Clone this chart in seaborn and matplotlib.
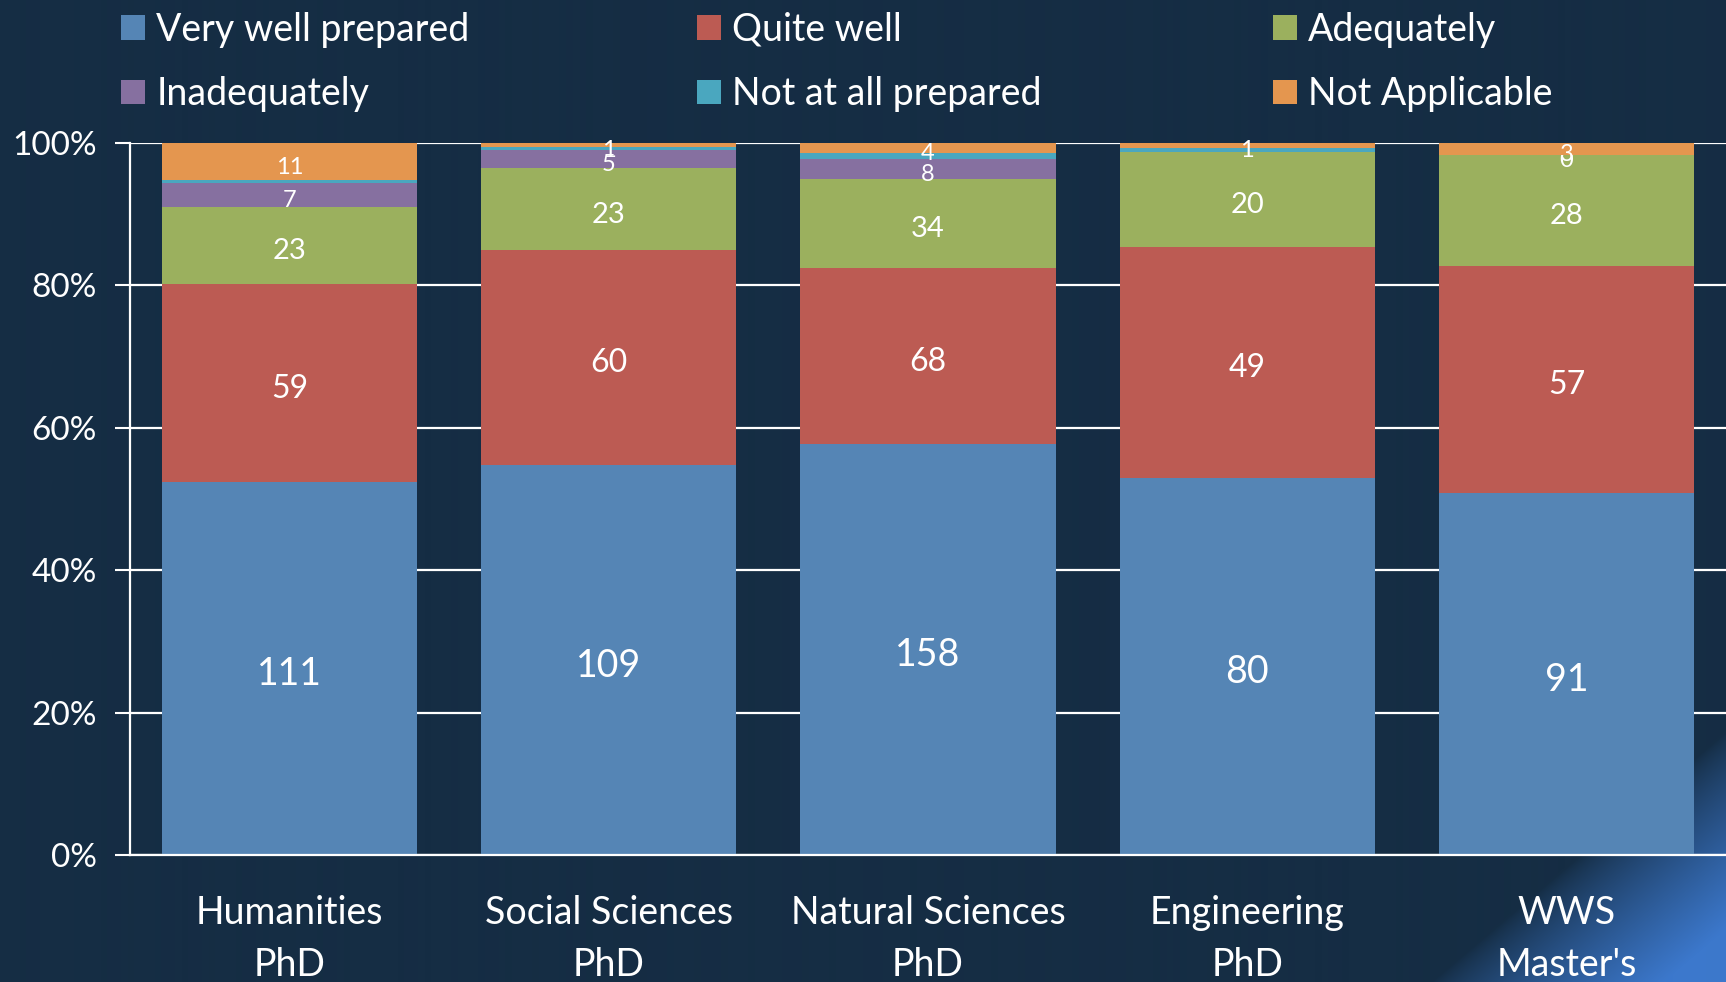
import numpy as np
import pandas as pd
import matplotlib
matplotlib.use("Agg")
import matplotlib.pyplot as plt
from matplotlib.colors import to_rgb
from matplotlib.patches import Patch
import seaborn as sns

# data (counts per group)
categories = ["Humanities\nPhD", "Social Sciences\nPhD", "Natural Sciences\nPhD",
              "Engineering\nPhD", "WWS\nMaster's"]
series_names = ["Very well prepared", "Quite well", "Adequately",
                "Inadequately", "Not at all prepared", "Not Applicable"]
very_well = [111, 109, 158, 80, 91]
quite_well = [59, 60, 68, 49, 57]
adequately = [23, 23, 34, 20, 28]
inadequately = [7, 5, 8, np.nan, 0]
not_at_all = [1, 1, 2, 1, 0]
not_applicable = [11, 1, 4, 1, 3]

colors = ["#5585b5", "#bc5b53", "#9bb05e", "#8670a0", "#4aa7bf", "#e4964f"]
label_sizes = [27, 23, 21, 17, 0, 17]   # 0 -> no labels on that series

BG = "#152d44"
W, H = 1726, 982

sns.set_theme(style="white")
plt.rcParams["font.family"] = ["Lato", "DejaVu Sans"]
plt.rcParams["text.color"] = "white"

df = pd.DataFrame(
    [very_well, quite_well, adequately, inadequately, not_at_all, not_applicable],
    index=series_names, columns=categories,
).T
totals = df.fillna(0).sum(axis=1)
pct = df.fillna(0).div(totals, axis=0) * 100

fig = plt.figure(figsize=(W / 100, H / 100), dpi=100, facecolor=BG)

# slide background: dark navy with a blue sweep in the lower right corner
bg_ax = fig.add_axes([0, 0, 1, 1], zorder=-1)
yy, xx = np.mgrid[0:H, 0:W]
f = ((xx - 1430) * 202 + (yy - 982) * 238) / 312.0
t = np.clip(f / 150.0, 0, 1)[..., None] ** 0.8
c0 = np.array(to_rgb(BG))
c1 = np.array(to_rgb("#3c78cc"))
bg_ax.imshow(c0 + t * (c1 - c0), aspect="auto", interpolation="bilinear")
bg_ax.axis("off")

ax = fig.add_axes([130 / W, 1 - 855 / H, 1 - 130 / W, (855 - 143) / H])
ax.set_facecolor("none")

bottom = np.zeros(len(categories))
for name, col, fs in zip(series_names, colors, label_sizes):
    n_before = len(ax.containers)
    sns.barplot(x=categories, y=pct[name].values, bottom=bottom, color=col,
                saturation=1, width=0.8, errorbar=None, linewidth=0,
                ax=ax, zorder=3)
    cont = ax.containers[n_before]
    if fs:
        labels = ["" if pd.isna(v) else f"{int(v)}" for v in df[name]]
        anns = ax.bar_label(cont, labels=labels, label_type="center",
                            color="white", fontsize=fs)
        for a in anns:
            a.xyann = (0, -4)
    bottom = bottom + pct[name].values

ax.set_ylim(0, 100)
ax.set_xlim(-0.5, len(categories) - 0.5)
ax.set_yticks(range(0, 101, 20))
ax.set_yticklabels([f"{v}%" for v in range(0, 101, 20)])
ax.yaxis.grid(True, color="white", linewidth=1.6, zorder=0)
ax.xaxis.grid(False)
ax.set_axisbelow(True)

ax.set_xticks(np.arange(-0.5, len(categories)), minor=True)
ax.tick_params(axis="x", which="major", length=0, pad=29, labelsize=27,
               labelcolor="white")
ax.tick_params(axis="x", which="minor", length=13, width=1.5, color="white",
               direction="out")
ax.tick_params(axis="y", length=11, width=1.5, color="white", pad=13,
               labelsize=24, labelcolor="white", left=True)
for lab in ax.get_xticklabels():
    lab.set_linespacing(1.55)

for s in ["top", "right"]:
    ax.spines[s].set_visible(False)
for s in ["left", "bottom"]:
    ax.spines[s].set_color("white")
    ax.spines[s].set_linewidth(1.6)
    ax.spines[s].set_zorder(4)
ax.set_xlabel("")
ax.set_ylabel("")

# legend: three columns of two rows, placed like the slide
col_x = [121, 697, 1273]
for c in range(3):
    handles = [Patch(facecolor=colors[c], edgecolor="none"),
               Patch(facecolor=colors[c + 3], edgecolor="none")]
    fig.legend(handles=handles, labels=[series_names[c], series_names[c + 3]],
               loc="upper left", bbox_to_anchor=(col_x[c] / W, 1 - 12 / H),
               frameon=False, fontsize=27, labelcolor="white",
               handlelength=0.64, handleheight=0.64, handletextpad=0.3,
               labelspacing=0.75, borderpad=0, borderaxespad=0)

fig.savefig("out.png", dpi=100, facecolor=BG)
